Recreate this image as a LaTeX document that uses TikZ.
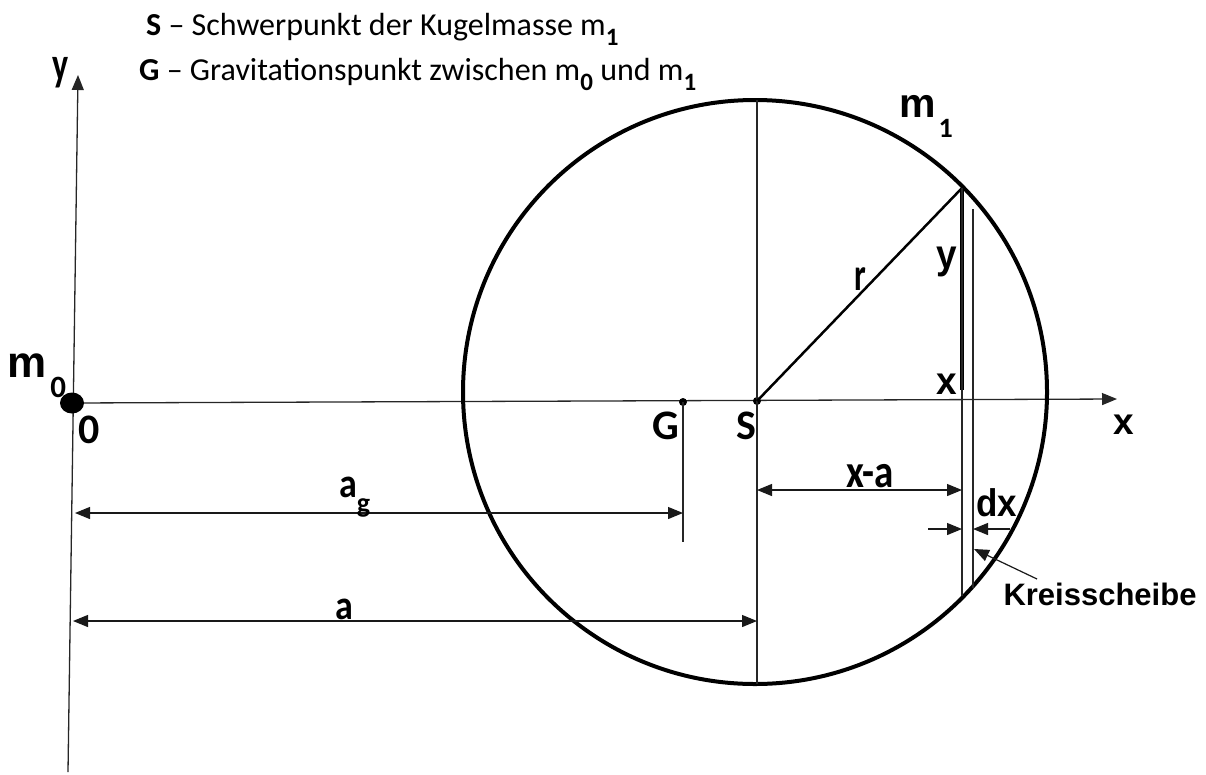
\documentclass[tikz,border=0pt]{standalone}
\usepackage{graphicx}
\usepackage{fontspec}
\setmainfont{Carlito}
\newfontfamily\arialf{Liberation Sans}
\usetikzlibrary{arrows.meta,shapes.geometric}
\newcommand{\talltxt}[2][1.3]{\scalebox{1}[#1]{#2}}
\newcommand{\subb}[2][25]{\raisebox{-10pt}{\bfseries\fontsize{#1}{#1}\selectfont #2}}
\tikzset{
  axisline/.style={line width=1.3pt, draw=black!85},
  thinline/.style={line width=1.3pt, draw=black!85},
  tipA/.tip={Triangle[length=15pt,width=12pt]},
  dimline/.style={line width=1.2pt, draw=black!90, tipA-tipA},
  onearrow/.style={line width=1.2pt, draw=black!90, -tipA},
  callab/.style={inner sep=0pt, font=\bfseries\fontsize{36}{36}\selectfont},
  bigcal/.style={inner sep=0pt, font=\bfseries\fontsize{42}{42}\selectfont},
  arilab/.style={inner sep=0pt, font=\arialf\bfseries\fontsize{37}{37}\selectfont},
  headtxt/.style={inner sep=0pt, anchor=base west, font=\fontsize{32}{32}\selectfont},
  dotnode/.style={circle, fill=black, inner sep=0pt, minimum size=8pt},
}
\begin{document}
\begin{tikzpicture}[x=1pt,y=1pt]
\useasboundingbox (0,0) rectangle (1206,-774);
% header
\node[headtxt] (h1) at (146,-35) {\textbf{S} -- Schwerpunkt der Kugelmasse m\subb{1}};
\node[headtxt] (h2) at (139,-80) {\textbf{G} -- Gravitationspunkt zwischen m\subb{0} und m\subb{1}};
% axes
\coordinate (yb) at (68,-772);
\coordinate (yt) at (78,-75);
\draw[axisline,-tipA] (yb) -- (yt);
\coordinate (xl) at (72,-403);
\coordinate (xr) at (1117,-399);
\draw[axisline,-tipA] (xl) -- (xr);
\node[inner sep=0pt, font=\bfseries\fontsize{34}{34}\selectfont] (ylab) at (61,-73) {\talltxt[1.4]{y}};
\node[arilab] (xlab) at (1124,-425) {x};
% m0
\node[ellipse, fill=black, minimum width=24pt, minimum height=21pt, inner sep=0pt] (m0) at (72,-403) {};
\node[inner sep=0pt, anchor=base west, font=\arialf\bfseries\fontsize{44}{44}\selectfont] (m0lab) at (7,-377) {m\hspace{4pt}\raisebox{-20pt}{\normalfont\bfseries\fontsize{31}{31}\selectfont 0}};
\node[bigcal] (zero) at (89,-430) {0};
% circle
\coordinate (C) at (755,-392);
\draw[line width=4pt] (C) circle (292);
\node[inner sep=0pt, anchor=base west, font=\arialf\bfseries\fontsize{41}{41}\selectfont] (m1lab) at (899,-117) {m\hspace{3pt}\raisebox{-20pt}{\normalfont\bfseries\fontsize{28}{28}\selectfont 1}};
% S and G
\node[dotnode] (S) at (757,-401) {};
\node[dotnode] (G) at (683,-402) {};
\node[bigcal] (Slab) at (746,-426) {S};
\node[bigcal] (Glab) at (666,-426) {G};
\coordinate (Stop) at (757,-100);
\coordinate (Sbot) at (757,-684);
\draw[thinline] (Stop) -- (Sbot);
\coordinate (Gbot) at (683,-542);
\draw[thinline] (G.center) -- (Gbot);
% radius and slice
\coordinate (P) at (962,-188);
\draw[line width=2.5pt] (S.center) -- (P);
\node[inner sep=0pt, font=\bfseries\fontsize{33}{33}\selectfont] (rlab) at (860,-279) {\talltxt[1.4]{r}};
\coordinate (Pm) at (962,-390);
\draw[line width=3.2pt] (P) -- (Pm);
\coordinate (Pb) at (962,-596);
\draw[thinline] (P) -- (Pb);
\coordinate (Qt) at (973,-209);
\coordinate (Qb) at (973,-588);
\draw[thinline] (Qt) -- (Qb);
\node[arilab] (ylab2) at (947,-262) {\talltxt[1.1]{y}};
\node[arilab] (xlab2) at (947,-384) {\talltxt[1.05]{x}};
% dimensions
\coordinate (agL) at (75,-513);
\coordinate (agR) at (683,-513);
\draw[dimline] (agL) -- (agR);
\node[inner sep=0pt, anchor=base west, font=\bfseries\fontsize{36}{36}\selectfont] (aglab) at (339,-497) {\talltxt[1.15]{a}\raisebox{-15pt}{\fontsize{28}{28}\selectfont g}};
\coordinate (aL) at (73,-621);
\coordinate (aR) at (757,-621);
\draw[dimline] (aL) -- (aR);
\node[callab, anchor=base west] (alab) at (335,-619) {\talltxt[1.15]{a}};
\coordinate (xaL) at (757,-490);
\coordinate (xaR) at (962,-490);
\draw[dimline] (xaL) -- (xaR);
\node[inner sep=0pt, anchor=base west, font=\bfseries\fontsize{39}{39}\selectfont] (xalab) at (846,-487) {\talltxt[1.2]{x-a}};
% dx
\coordinate (dx1s) at (928,-529);
\coordinate (dx1e) at (962,-529);
\coordinate (dx2s) at (1010,-529);
\coordinate (dx2e) at (973,-529);
\draw[onearrow] (dx1s) -- (dx1e);
\draw[onearrow] (dx2s) -- (dx2e);
\node[inner sep=0pt, font=\arialf\bfseries\fontsize{35}{35}\selectfont] (dxlab) at (997,-503) {\talltxt[1.1]{dx}};
% Kreisscheibe
\coordinate (ks) at (1037,-579);
\coordinate (ke) at (974,-549);
\draw[onearrow] (ks) -- (ke);
\node[inner sep=0pt, font=\arialf\bfseries\fontsize{31}{31}\selectfont] (kslab) at (1100,-594) {Kreisscheibe};
\end{tikzpicture}
\end{document}
